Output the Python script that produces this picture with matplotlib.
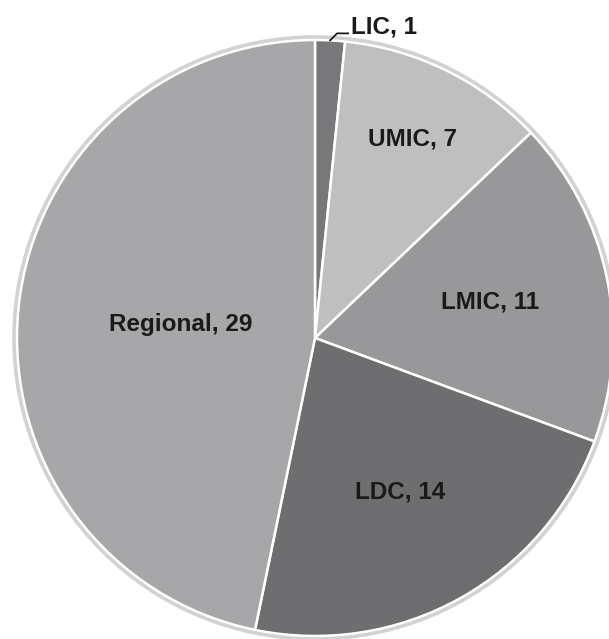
import numpy as np
import matplotlib.pyplot as plt
from matplotlib.patches import Circle

# project counts by country group
groups = ["LIC", "UMIC", "LMIC", "LDC", "Regional"]
counts = [1, 7, 11, 14, 29]
colors = ["#78787b", "#bfbfc0", "#98989b", "#6e6e71", "#a7a7a9"]
label_dist = [None, 222, 179, 176, 135]   # px from the centre

plt.rcParams['font.family'] = ['Liberation Sans', 'DejaVu Sans']

W, H = 609, 639
fig = plt.figure(figsize=(W / 100, H / 100), dpi=100)
ax = fig.add_axes([0, 0, 1, 1])

center = (315, H - 338)
R = 298

wedges, _ = ax.pie(counts, colors=colors, startangle=90, counterclock=False,
                   center=center, radius=R, frame=True,
                   wedgeprops=dict(edgecolor="white", linewidth=1.8))

# light rim round the pie
ax.add_patch(Circle(center, R + 3, fill=False, edgecolor="#d2d2d2", lw=2.6, zorder=3))
ax.add_patch(Circle(center, R, fill=False, edgecolor="white", lw=1.0, zorder=3))

for w, g, n, d in zip(wedges, groups, counts, label_dist):
    mid = np.deg2rad((w.theta1 + w.theta2) / 2)
    if d is None:
        # small slice gets a leader line
        x0 = center[0] + R * np.cos(mid)
        y0 = center[1] + R * np.sin(mid)
        ax.plot([x0, x0 + 7, x0 + 18], [y0, y0 + 7, y0 + 7], color="#1a1a1a", lw=1.3, zorder=4)
        ax.text(x0 + 21, y0 + 13, f"{g}, {n}", fontsize=17.5, fontweight="bold",
                color="#1a1a1a", ha="left", va="center", zorder=4)
    else:
        ax.text(center[0] + d * np.cos(mid), center[1] + d * np.sin(mid), f"{g}, {n}",
                fontsize=17.5, fontweight="bold", color="#1a1a1a",
                ha="center", va="center", zorder=4)

ax.set_aspect("auto")
ax.set_xlim(0, W)
ax.set_ylim(0, H)
ax.axis("off")

plt.savefig("out.png", dpi=100)
